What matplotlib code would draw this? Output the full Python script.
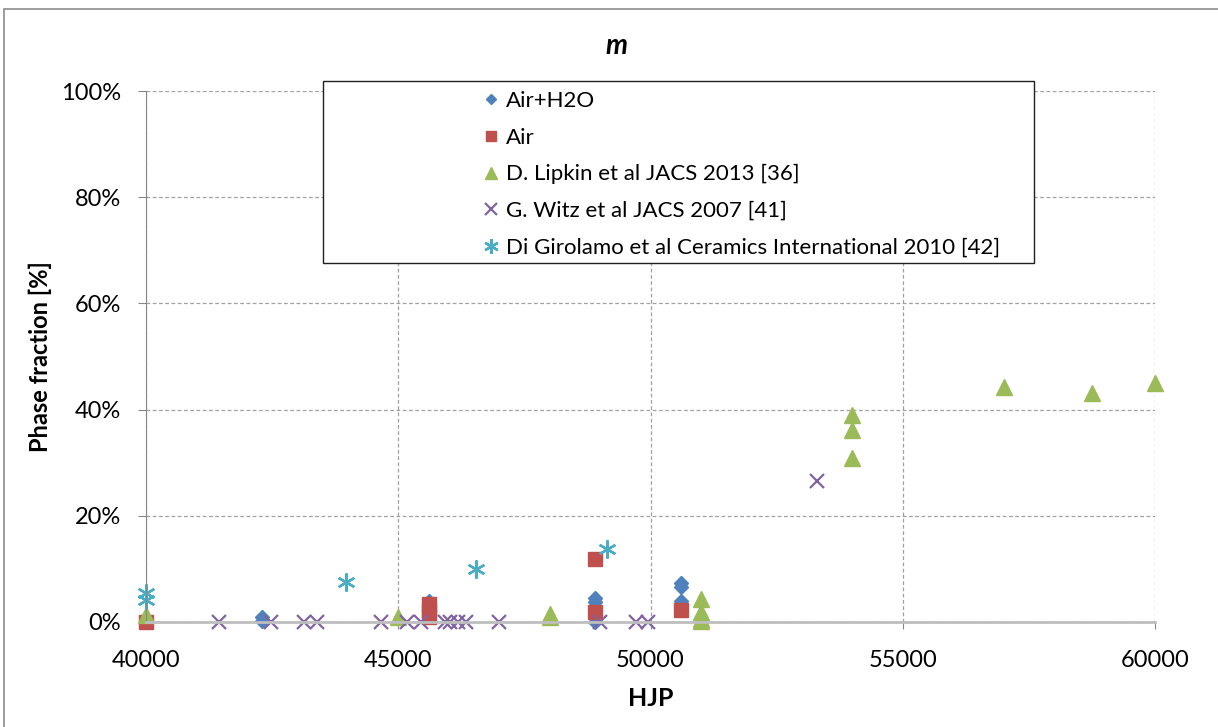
import matplotlib
matplotlib.use("Agg")
import matplotlib.pyplot as plt
from matplotlib.patches import Rectangle
from matplotlib.ticker import PercentFormatter, MultipleLocator

plt.rcParams['font.family'] = ['Lato', 'DejaVu Sans']

# HJP value vs. monoclinic phase fraction (%) for each data set
air_h2o_x = [42300, 42300, 45600, 48900, 48900, 48900, 50600, 50600, 50600]
air_h2o_y = [1.0, 0.2, 3.9, 4.6, 3.8, 0.0, 7.3, 6.6, 4.0]

air_x = [40000, 45600, 45600, 45600, 48900, 48900, 50600]
air_y = [0.0, 3.3, 2.2, 1.0, 11.9, 1.8, 2.2]

lipkin_x = [40000, 45000, 48000, 48000, 51000, 51000, 51000, 51000,
            54000, 54000, 54000, 57000, 58750, 60000]
lipkin_y = [1.3, 1.0, 1.5, 1.0, 4.3, 1.9, 0.6, 0.2,
            38.9, 36.2, 30.8, 44.3, 43.1, 45.1]

witz_x = [41450, 42480, 43140, 43390, 44650, 45165, 45460, 45930, 46030,
          46190, 46340, 47000, 49000, 49720, 49950, 53300]
witz_y = [0, 0, 0, 0, 0, 0, 0, 0, 0, 0, 0, 0, 0, 0, 0, 26.6]

girolamo_x = [40000, 40000, 43960, 46540, 49140]
girolamo_y = [5.5, 4.1, 7.6, 9.9, 13.7]

series_labels = ['Air+H2O', 'Air', 'D. Lipkin et al JACS 2013 [36]',
                 'G. Witz et al JACS 2007 [41]',
                 'Di Girolamo et al Ceramics International 2010 [42]']

W, H = 1218, 727
fig = plt.figure(figsize=(W / 100, H / 100), dpi=100)
ax = fig.add_axes([146 / W, 1 - 622 / H, (1155 - 146) / W, (622 - 91) / H])

common = dict(linestyle='none', clip_on=False)
ax.plot(air_h2o_x, air_h2o_y, marker='D', ms=7, color='#4F81BD',
        mec='#4F81BD', label=series_labels[0], **common)
ax.plot(air_x, air_y, marker='s', ms=9.5, color='#C0504D',
        mec='#C0504D', label=series_labels[1], **common)
ax.plot(lipkin_x, lipkin_y, marker='^', ms=11, color='#9BBB59',
        mec='#9BBB59', label=series_labels[2], **common)
ax.plot(witz_x, witz_y, marker='x', ms=10.5, mew=1.6, color='#8064A2',
        label=series_labels[3], **common)
ax.plot(girolamo_x, girolamo_y, marker=(6, 2, 0), ms=13, mew=1.7,
        color='#4BACC6', label=series_labels[4], **common)

ax.set_xlim(40000, 60000)
ax.set_ylim(0, 100)
ax.xaxis.set_major_locator(MultipleLocator(5000))
ax.yaxis.set_major_locator(MultipleLocator(20))
ax.yaxis.set_major_formatter(PercentFormatter(xmax=100, decimals=0))

ax.grid(True, linestyle=(0, (3, 2)), color='#A0A0A0', linewidth=0.9)
ax.set_axisbelow(True)
for side in ['top', 'right']:
    ax.spines[side].set_visible(False)
ax.spines['left'].set_color('#868686')
ax.spines['bottom'].set_color('#BEBEBE')
ax.spines['bottom'].set_linewidth(2)

ax.tick_params(axis='y', length=6, color='#868686', pad=12, labelsize=17)
ax.tick_params(axis='x', length=5, color='#868686', pad=15, labelsize=17)

ax.set_xlabel('HJP', fontsize=18, fontweight='bold')
ax.xaxis.set_label_coords(0.5, -0.122)
ax.set_ylabel('Phase fraction [%]', fontsize=17, fontweight='bold')
ax.yaxis.set_label_coords(-0.093, 0.5)

fig.text(616 / W, 1 - 46 / H, 'm', fontsize=20, fontweight='bold',
         fontstyle='italic', ha='center', va='center')

# chart area outline and legend box
fig.patches.append(Rectangle((4 / W, -0.05), 1.1, 1 - 9 / H + 0.05,
                             transform=fig.transFigure, fill=False,
                             edgecolor='#8C8C8C', linewidth=1.2))
fig.patches.append(Rectangle((323 / W, 1 - 263 / H), (1034 - 323) / W,
                             (263 - 81) / H, transform=fig.transFigure,
                             facecolor='white', edgecolor='#202020',
                             linewidth=1, zorder=5))

leg = fig.legend(loc='upper left', bbox_to_anchor=(480 / W, 1 - 91 / H),
                 frameon=False, fontsize=16, borderpad=0, borderaxespad=0,
                 handlelength=1.0, handletextpad=0.15, labelspacing=0.75,
                 markerscale=0.8)
leg.set_zorder(6)

fig.savefig('out.png', dpi=100)
